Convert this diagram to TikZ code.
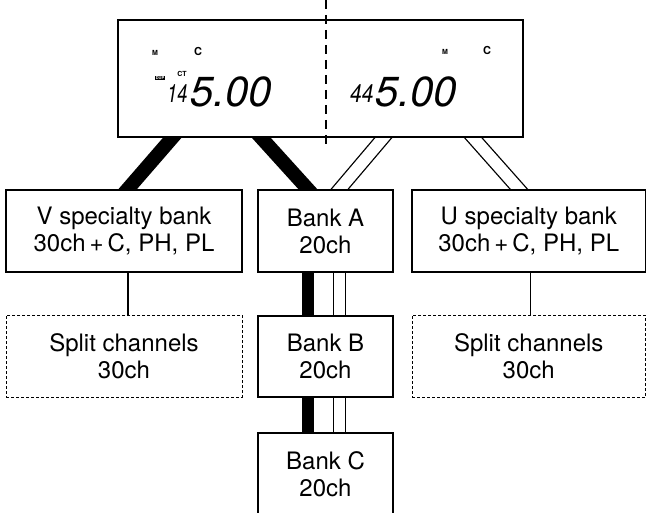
\documentclass[tikz,border=0pt]{standalone}
\usepackage{fontspec}
\setmainfont{TeX Gyre Heros}
\usetikzlibrary{positioning,calc,backgrounds}

\begin{document}
\begin{tikzpicture}[
  x=1pt, y=-1pt,
  font=\fontsize{24}{27}\selectfont,
  screen/.style={draw,line width=1.5pt,fill=white,inner sep=0pt,minimum width=405pt,minimum height=117pt},
  cutline/.style={line width=1.2pt,dash pattern=on 9pt off 6pt},
  unitbox/.style={draw,line width=1.3pt,fill=white,align=center,inner sep=0pt,minimum height=82pt},
  bankbox/.style={unitbox,minimum width=135pt},
  sidebox/.style={unitbox,minimum width=236pt},
  splitbox/.style={sidebox,line width=0.9pt,dash pattern=on 3pt off 2pt},
  bandline/.style={line width=14pt,shorten <=-8pt,shorten >=-8pt},
  stackband/.style={bandline,line width=12pt},
  twinline/.style={draw=black,double=white,line width=1.3pt,double distance=11.5pt,shorten <=-8pt,shorten >=-8pt},
  stacktwin/.style={twinline,double distance=10.5pt},
  tieline/.style={line width=1.2pt},
  lcdtag/.style={inner sep=0pt,font=\fontsize{7}{7}\selectfont\bfseries},
  lcdcall/.style={inner sep=0pt,font=\fontsize{11}{11}\selectfont\bfseries},
  lcdsmall/.style={inner sep=0pt,anchor=base west,font=\fontsize{28}{28}\selectfont\itshape},
  lcdbig/.style={inner sep=0pt,anchor=base west,font=\fontsize{42}{42}\selectfont\itshape},
  dupbox/.style={fill=black,text=white,inner sep=0.6pt,font=\fontsize{4}{4}\selectfont\bfseries}
]
\useasboundingbox (0,0) rectangle (647,513);

% radio display, split in V and U halves
\node[screen] (display) at (320.5,78.5) {};
\coordinate (cuttop) at (326,0);
\coordinate (cutbot) at (326,145);
\draw[cutline] (cuttop) -- (cutbot);

\node[lcdtag] (vmem) at (155,53) {M};
\node[lcdcall] (vcall) at (198,51) {C};
\node[dupbox] (vdup) at (160,78) {DUP};
\node[lcdtag] (vtone) at (182,74) {CT};
\node[lcdsmall] (vmhz) at (167,103) {\scalebox{0.65}[0.9]{14}};
\node[lcdbig] (vkhz) at (190,107) {5.00};

\node[lcdtag] (umem) at (445,52) {M};
\node[lcdcall] (ucall) at (487,50) {C};
\node[lcdsmall] (umhz) at (350,103) {\scalebox{0.75}[0.9]{44}};
\node[lcdbig] (ukhz) at (375,107) {5.00};

% banks
\node[sidebox] (vbank) at (124,231) {V specialty bank\\30ch\,+\,C, PH, PL};
\node[bankbox] (banka) at (325.5,231) {Bank A\\20ch};
\node[sidebox,minimum width=233.5pt] (ubank) at (528.75,231) {U specialty bank\\30ch\,+\,C, PH, PL};
\node[splitbox] (vsplit) at (124,356) {Split channels\\30ch};
\node[bankbox,minimum height=81pt] (bankb) at (325.5,356.5) {Bank B\\20ch};
\node[splitbox,minimum width=233.5pt] (usplit) at (528.75,356) {Split channels\\30ch};
\node[bankbox] (bankc) at (325.5,474) {Bank C\\20ch};

% links
\begin{scope}[on background layer]
\draw[bandline] ($(display.south west)+(55,0)$) -- ($(vbank.north)+(3.5,0)$);
\draw[bandline] ($(display.south west)+(144,0)$) -- ($(banka.north)+(-17.5,0)$);
\draw[twinline] ($(display.south west)+(266,0)$) -- ($(banka.north)+(14,0)$);
\draw[twinline] ($(display.south east)+(-50.5,0)$) -- ($(ubank.north)+(-9.75,0)$);
\foreach \from/\to in {banka/bankb,bankb/bankc} {
  \draw[stackband] ($(\from.south)+(-17.5,0)$) -- ($(\to.north)+(-17.5,0)$);
  \draw[stacktwin] ($(\from.south)+(14,0)$) -- ($(\to.north)+(14,0)$);
}
\end{scope}
\draw[tieline] ($(vbank.south)+(4,0)$) -- ($(vsplit.north)+(4,0)$);
\draw[tieline] ($(ubank.south)+(2,0)$) -- ($(usplit.north)+(2,0)$);

\end{tikzpicture}
\end{document}
